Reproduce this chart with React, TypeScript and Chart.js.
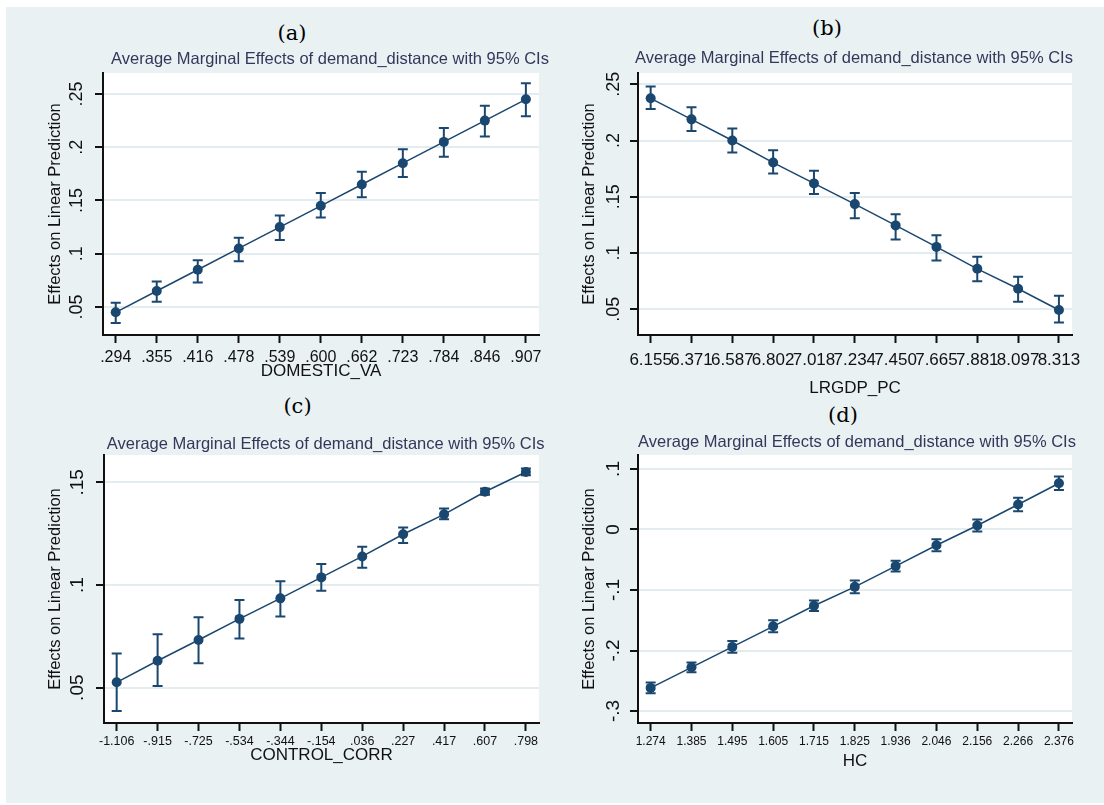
import React, { useEffect, useRef } from 'react';
import { Chart, registerables } from 'chart.js';

Chart.register(...registerables);

// ---------- DATA ----------
const subtitleText = 'Average Marginal Effects of demand_distance with 95% CIs';
const yTitleText = 'Effects on Linear Prediction';

// (a) DOMESTIC_VA
const aLabels = ['.294', '.355', '.416', '.478', '.539', '.600', '.662', '.723', '.784', '.846', '.907'];
const aMargins = [0.045, 0.065, 0.085, 0.105, 0.125, 0.145, 0.165, 0.185, 0.205, 0.225, 0.245];
const aLower = [0.035, 0.055, 0.073, 0.093, 0.113, 0.134, 0.153, 0.172, 0.191, 0.210, 0.229];
const aUpper = [0.054, 0.074, 0.094, 0.115, 0.136, 0.157, 0.177, 0.198, 0.218, 0.239, 0.260];
const aYTicks = [0.05, 0.1, 0.15, 0.2, 0.25];

// (b) LRGDP_PC
const bLabels = ['6.155', '6.371', '6.587', '6.802', '7.018', '7.234', '7.450', '7.665', '7.881', '8.097', '8.313'];
const bMargins = [0.2375, 0.2188, 0.2, 0.1804, 0.1619, 0.1435, 0.1246, 0.1055, 0.086, 0.0683, 0.0494];
const bLower = [0.2281, 0.2084, 0.1893, 0.1706, 0.1524, 0.131, 0.112, 0.0935, 0.075, 0.0567, 0.0383];
const bUpper = [0.2479, 0.2295, 0.2107, 0.1914, 0.1731, 0.1533, 0.1346, 0.1159, 0.0967, 0.079, 0.0621];
const bYTicks = [0.05, 0.1, 0.15, 0.2, 0.25];

// (c) CONTROL_CORR
const cLabels = ['-1.106', '-.915', '-.725', '-.534', '-.344', '-.154', '.036', '.227', '.417', '.607', '.798'];
const cMargins = [0.0526, 0.0631, 0.0732, 0.0835, 0.0935, 0.1037, 0.1139, 0.1247, 0.1344, 0.1454, 0.155];
const cLower = [0.0386, 0.0508, 0.0619, 0.074, 0.0847, 0.0972, 0.1084, 0.1204, 0.132, 0.144, 0.1535];
const cUpper = [0.0667, 0.076, 0.0843, 0.0927, 0.1018, 0.1102, 0.1186, 0.128, 0.1373, 0.147, 0.1567];
const cYTicks = [0.05, 0.1, 0.15];

// (d) HC
const dLabels = ['1.274', '1.385', '1.495', '1.605', '1.715', '1.825', '1.936', '2.046', '2.156', '2.266', '2.376'];
const dMargins = [-0.2618, -0.2278, -0.194, -0.16, -0.126, -0.0948, -0.0605, -0.026, 0.0066, 0.0413, 0.0764];
const dLower = [-0.2708, -0.2358, -0.2036, -0.17, -0.1348, -0.1053, -0.0693, -0.036, -0.0034, 0.0303, 0.0654];
const dUpper = [-0.2528, -0.2198, -0.1844, -0.15, -0.1172, -0.0843, -0.0517, -0.016, 0.0166, 0.0523, 0.0874];
const dYTicks = [-0.3, -0.2, -0.1, 0, 0.1];

// ---------- STYLE ----------
const NAVY = '#1a476f';
const INK = '#111111';
const GRID = '#e3ecef';
const BG = '#e9f1f3';
const SANS = '"Liberation Sans", Arial, Helvetica, sans-serif';
const SERIF = '"DejaVu Serif", "Liberation Serif", serif';

function fmtStata(v: number): string {
  const s = (Math.round(v * 1000) / 1000).toString();
  return s.replace(/^(-?)0\./, '$1.');
}

type Layout = {
  cx: number; cy: number; cw: number; ch: number;
  plotL: number; plotR: number; plotT: number; plotB: number;
  xTitleY: number; yTitleX: number; yLabelOff: number;
  xTickSize: number; xTickPad: number; yTickSize: number;
  letterX: number; letterY: number; subX: number; subY: number;
  yMin: number; yMax: number;
};

type PanelSpec = {
  letter: string;
  xTitle: string;
  labels: string[];
  margins: number[];
  lower: number[];
  upper: number[];
  yTicks: number[];
  layout: Layout;
};

const panels: PanelSpec[] = [
  {
    letter: '(a)', xTitle: 'DOMESTIC_VA', labels: aLabels, margins: aMargins, lower: aLower, upper: aUpper, yTicks: aYTicks,
    layout: {
      cx: 0, cy: 65, cw: 552, ch: 325, plotL: 103, plotR: 539, plotT: 73, plotB: 335,
      xTitleY: 371, yTitleX: 55.4, yLabelOff: 26, xTickSize: 16, xTickPad: 5.4, yTickSize: 18,
      letterX: 292, letterY: 33, subX: 330, subY: 58, yMin: 0.0237, yMax: 0.2697,
    },
  },
  {
    letter: '(b)', xTitle: 'LRGDP_PC', labels: bLabels, margins: bMargins, lower: bLower, upper: bUpper, yTicks: bYTicks,
    layout: {
      cx: 552, cy: 65, cw: 552, ch: 335, plotL: 638, plotR: 1072, plotT: 73, plotB: 335,
      xTitleY: 388, yTitleX: 589.6, yLabelOff: 24, xTickSize: 17, xTickPad: 6.8, yTickSize: 18,
      letterX: 827, letterY: 28, subX: 854, subY: 57, yMin: 0.0272, yMax: 0.26,
    },
  },
  {
    letter: '(c)', xTitle: 'CONTROL_CORR', labels: cLabels, margins: cMargins, lower: cLower, upper: cUpper, yTicks: cYTicks,
    layout: {
      cx: 0, cy: 450, cw: 552, ch: 330, plotL: 104, plotR: 539, plotT: 455, plotB: 723,
      xTitleY: 755.5, yTitleX: 55.4, yLabelOff: 26, xTickSize: 12.5, xTickPad: 3, yTickSize: 19,
      letterX: 297.5, letterY: 406, subX: 325.7, subY: 443.3, yMin: 0.0328, yMax: 0.1633,
    },
  },
  {
    letter: '(d)', xTitle: 'HC', labels: dLabels, margins: dMargins, lower: dLower, upper: dUpper, yTicks: dYTicks,
    layout: {
      cx: 552, cy: 450, cw: 552, ch: 330, plotL: 638, plotR: 1072, plotT: 455, plotB: 723,
      xTitleY: 761, yTitleX: 589.6, yLabelOff: 24, xTickSize: 12, xTickPad: 3, yTickSize: 19,
      letterX: 843, letterY: 415, subX: 857, subY: 441, yMin: -0.3198, yMax: 0.1231,
    },
  },
];

const X_MIN = -0.31;
const X_MAX = 10.32;

function Panel({ p }: { p: PanelSpec }) {
  const ref = useRef<HTMLCanvasElement | null>(null);
  const L = p.layout;

  useEffect(() => {
    if (!ref.current) return;
    const yScaleW = L.plotL - L.cx;
    const padTop = L.plotT - L.cy;
    const padRight = L.cx + L.cw - L.plotR;
    const xScaleH = L.cy + L.ch - L.plotB;
    const xTitleSize = 17;
    const yTitleSize = 16.5;
    const xTitleLH = xTitleSize * 1.2;
    const yTitleLH = yTitleSize * 1.2;

    const bgPlugin = {
      id: 'plotBg',
      beforeDraw(chart: any) {
        const { ctx, chartArea } = chart;
        ctx.save();
        ctx.fillStyle = '#ffffff';
        ctx.fillRect(chartArea.left, chartArea.top, chartArea.right - chartArea.left, chartArea.bottom - chartArea.top);
        ctx.restore();
      },
    };

    const errPlugin = {
      id: 'errBars',
      beforeDatasetsDraw(chart: any) {
        const { ctx } = chart;
        const xs = chart.scales.x;
        const ys = chart.scales.y;
        ctx.save();
        ctx.strokeStyle = NAVY;
        ctx.lineWidth = 2;
        p.margins.forEach((_, i) => {
          const px = xs.getPixelForValue(i);
          const pLo = ys.getPixelForValue(p.lower[i]);
          const pHi = ys.getPixelForValue(p.upper[i]);
          ctx.beginPath();
          ctx.moveTo(px, pLo);
          ctx.lineTo(px, pHi);
          ctx.moveTo(px - 5, pLo);
          ctx.lineTo(px + 5, pLo);
          ctx.moveTo(px - 5, pHi);
          ctx.lineTo(px + 5, pHi);
          ctx.stroke();
        });
        ctx.restore();
      },
    };

    const yLabelPlugin = {
      id: 'yRotLabels',
      afterDraw(chart: any) {
        const { ctx, chartArea } = chart;
        const ys = chart.scales.y;
        ctx.save();
        ctx.fillStyle = INK;
        ctx.font = `${L.yTickSize}px ${SANS}`;
        ctx.textAlign = 'center';
        ctx.textBaseline = 'middle';
        p.yTicks.forEach((v) => {
          ctx.save();
          ctx.translate(chartArea.left - L.yLabelOff, ys.getPixelForValue(v));
          ctx.rotate(-Math.PI / 2);
          ctx.fillText(fmtStata(v), 0, 0);
          ctx.restore();
        });
        ctx.restore();
      },
    };

    const chart = new Chart(ref.current, {
      type: 'scatter',
      data: {
        datasets: [
          {
            data: p.margins.map((v, i) => ({ x: i, y: v })),
            showLine: true,
            borderColor: NAVY,
            borderWidth: 1.5,
            pointRadius: 5,
            pointHoverRadius: 5,
            pointBackgroundColor: NAVY,
            pointBorderWidth: 0,
          },
        ],
      },
      options: {
        animation: false,
        responsive: false,
        maintainAspectRatio: false,
        events: [],
        layout: { padding: { top: padTop, right: padRight, left: 0, bottom: 0 }, autoPadding: false },
        plugins: { legend: { display: false }, tooltip: { enabled: false }, title: { display: false } },
        scales: {
          x: {
            type: 'linear',
            min: X_MIN,
            max: X_MAX,
            afterBuildTicks: (s: any) => {
              s.ticks = p.labels.map((_, i) => ({ value: i }));
            },
            afterFit: (s: any) => {
              s.height = xScaleH;
            },
            ticks: {
              autoSkip: false,
              maxRotation: 0,
              minRotation: 0,
              padding: L.xTickPad,
              color: INK,
              font: { family: SANS, size: L.xTickSize },
              callback: (v: any) => p.labels[Math.round(Number(v))] ?? '',
            },
            grid: { display: true, drawOnChartArea: false, drawTicks: true, tickLength: 8, tickColor: INK, tickWidth: 2 },
            border: { display: true, color: INK, width: 2 },
            title: {
              display: true,
              text: p.xTitle,
              color: INK,
              font: { family: SANS, size: xTitleSize },
              padding: { top: 0, bottom: L.cy + L.ch - L.xTitleY - xTitleLH / 2 },
            },
          },
          y: {
            type: 'linear',
            min: L.yMin,
            max: L.yMax,
            afterBuildTicks: (s: any) => {
              s.ticks = p.yTicks.map((v) => ({ value: v }));
            },
            afterFit: (s: any) => {
              s.width = yScaleW;
            },
            ticks: { display: false },
            grid: { color: GRID, lineWidth: 2, drawTicks: true, tickLength: 8, tickColor: INK, tickWidth: 2 },
            border: { display: true, color: INK, width: 2 },
            title: {
              display: true,
              text: yTitleText,
              color: INK,
              font: { family: SANS, size: yTitleSize },
              padding: { top: L.yTitleX - L.cx - yTitleLH / 2, bottom: 0 },
            },
          },
        },
      } as any,
      plugins: [bgPlugin, errPlugin, yLabelPlugin],
    });
    return () => chart.destroy();
  }, []);

  return (
    <>
      <canvas
        ref={ref}
        width={L.cw}
        height={L.ch}
        style={{ position: 'absolute', left: L.cx, top: L.cy, width: L.cw, height: L.ch }}
      />
      <div
        style={{
          position: 'absolute', left: L.letterX, top: L.letterY, transform: 'translate(-50%, -50%)',
          font: `21px ${SERIF}`, color: '#000', whiteSpace: 'nowrap', lineHeight: 1, zIndex: 2,
        }}
      >
        {p.letter}
      </div>
      <div
        style={{
          position: 'absolute', left: L.subX, top: L.subY, transform: 'translate(-50%, -50%)',
          font: `16.5px ${SANS}`, color: '#33385a', whiteSpace: 'nowrap', lineHeight: 1, zIndex: 2,
        }}
      >
        {subtitleText}
      </div>
    </>
  );
}

export default function App() {
  return (
    <div style={{ position: 'absolute', left: 0, top: 0, width: 1104, height: 805, background: '#ffffff', overflow: 'hidden' }}>
      <div style={{ position: 'absolute', left: 6, top: 7, width: 1098, height: 796, background: BG }} />
      {panels.map((p) => (
        <Panel key={p.letter} p={p} />
      ))}
    </div>
  );
}
